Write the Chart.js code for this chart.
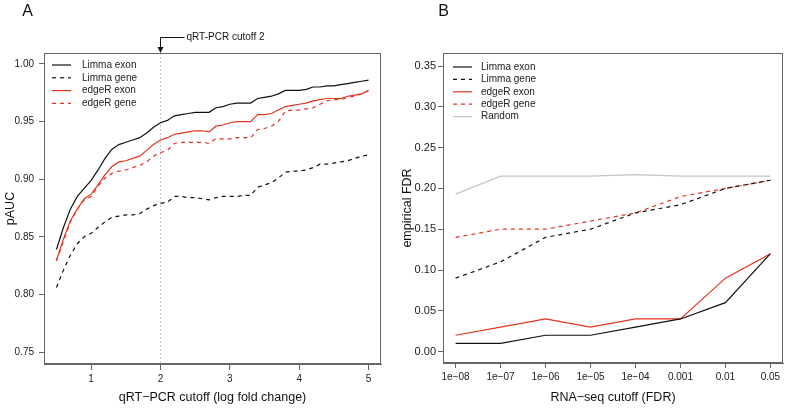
<!DOCTYPE html>
<html>
<head>
<meta charset="utf-8">
<script src="https://cdn.jsdelivr.net/npm/chart.js@4.4.0/dist/chart.umd.min.js"></script>
<style>
  body { margin: 0; background: #fff; }
  #wrap { position: relative; width: 787px; height: 409px; background: #fff; }
  #chartA { position: absolute; left: 0; top: 0; }
  #chartB { position: absolute; left: 393px; top: 0; }
</style>
</head>
<body>
<div id="wrap">
  <canvas id="chartA" width="393" height="409"></canvas>
  <canvas id="chartB" width="394" height="409"></canvas>
</div>
<script>
/* ---------- Panel A: pAUC vs qRT-PCR cutoff ---------- */
const qpcrCutoffs = [0.5, 0.6, 0.7, 0.8, 0.9, 1.0, 1.1, 1.2, 1.3, 1.4, 1.5, 1.6, 1.7, 1.8, 1.9, 2.0,
                     2.1, 2.2, 2.3, 2.4, 2.5, 2.6, 2.7, 2.8, 2.9, 3.0, 3.1, 3.2, 3.3, 3.4, 3.5, 3.6,
                     3.7, 3.8, 3.9, 4.0, 4.1, 4.2, 4.3, 4.4, 4.5, 4.6, 4.7, 4.8, 4.9, 5.0];

const limmaExonA = [0.839, 0.858, 0.874, 0.885, 0.892, 0.899, 0.908, 0.918, 0.926, 0.930, 0.932, 0.934, 0.936, 0.940, 0.945, 0.949,
                    0.951, 0.955, 0.956, 0.957, 0.958, 0.958, 0.958, 0.962, 0.963, 0.965, 0.966, 0.966, 0.966, 0.970, 0.971, 0.972,
                    0.974, 0.977, 0.977, 0.977, 0.978, 0.980, 0.980, 0.981, 0.981, 0.982, 0.983, 0.984, 0.985, 0.986];
const limmaGeneA = [0.806, 0.821, 0.834, 0.844, 0.850, 0.853, 0.858, 0.863, 0.867, 0.868, 0.869, 0.869, 0.870, 0.874, 0.877, 0.879,
                    0.880, 0.885, 0.885, 0.884, 0.884, 0.883, 0.882, 0.884, 0.885, 0.885, 0.885, 0.886, 0.886, 0.893, 0.895, 0.897,
                    0.901, 0.906, 0.907, 0.907, 0.908, 0.910, 0.913, 0.913, 0.914, 0.915, 0.916, 0.918, 0.920, 0.921];
const edgerExonA = [0.830, 0.848, 0.864, 0.874, 0.883, 0.887, 0.895, 0.904, 0.911, 0.915, 0.916, 0.918, 0.920, 0.925, 0.930, 0.934,
                    0.936, 0.939, 0.940, 0.941, 0.942, 0.942, 0.941, 0.946, 0.947, 0.949, 0.950, 0.950, 0.950, 0.956, 0.956, 0.957,
                    0.960, 0.963, 0.964, 0.965, 0.966, 0.968, 0.969, 0.970, 0.970, 0.970, 0.972, 0.973, 0.974, 0.977];
const edgerGeneA = [0.829, 0.846, 0.863, 0.874, 0.882, 0.885, 0.894, 0.901, 0.905, 0.907, 0.908, 0.910, 0.912, 0.915, 0.920, 0.923,
                    0.925, 0.931, 0.932, 0.932, 0.932, 0.932, 0.931, 0.935, 0.935, 0.935, 0.936, 0.936, 0.936, 0.943, 0.944, 0.946,
                    0.950, 0.959, 0.960, 0.960, 0.961, 0.962, 0.965, 0.968, 0.969, 0.969, 0.971, 0.972, 0.974, 0.977];

const xTicksA = [1, 2, 3, 4, 5];
const yTicksA = [0.75, 0.80, 0.85, 0.90, 0.95, 1.00];
const cutoffMarkA = 2;

/* ---------- Panel B: empirical FDR vs RNA-seq cutoff ---------- */
const fdrCutoffs = ["1e\u221208", "1e\u221207", "1e\u221206", "1e\u221205", "1e\u221204", "0.001", "0.01", "0.05"];
const limmaExonB = [0.01, 0.01, 0.02, 0.02, 0.03, 0.04, 0.06, 0.12];
const limmaGeneB = [0.09, 0.11, 0.14, 0.15, 0.17, 0.18, 0.20, 0.21];
const edgerExonB = [0.02, 0.03, 0.04, 0.03, 0.04, 0.04, 0.09, 0.12];
const edgerGeneB = [0.14, 0.15, 0.15, 0.16, 0.17, 0.19, 0.20, 0.21];
const randomB    = [0.193, 0.215, 0.215, 0.215, 0.217, 0.215, 0.215, 0.215];
const yTicksB = [0.00, 0.05, 0.10, 0.15, 0.20, 0.25, 0.30, 0.35];


/* ---------- shared look ---------- */
const FONT = '"Liberation Sans", Arial, sans-serif';
const BLACK = "#111111";
const RED = "#e4341f";
const GREY = "#c4c4c4";
const AXIS = "#666666";

Chart.defaults.font.family = FONT;
Chart.defaults.color = "#222";

function pairUp(xs, ys) {
    return ys.map((y, i) => ({ x: xs[i], y: y }));
}

function lineSet(label, xs, ys, color, dashed) {
    return {
        label: label,
        data: pairUp(xs, ys),
        borderColor: color,
        borderWidth: 1.2,
        borderDash: dashed ? [4, 4] : [],
        pointRadius: 0,
        tension: 0,
        fill: false
    };
}

/* box round the plot region (R style) */
const plotBox = {
    id: "plotBox",
    afterDraw(chart) {
        const a = chart.chartArea, ctx = chart.ctx;
        ctx.save();
        ctx.strokeStyle = AXIS;
        ctx.lineWidth = 1;
        ctx.strokeRect(Math.round(a.left) + 0.5, Math.round(a.top) + 0.5,
                       Math.round(a.right - a.left) - 1, Math.round(a.bottom - a.top) - 1);
        ctx.restore();
    }
};

/* legend drawn inside the plot, top-left */
const insideLegend = {
    id: "insideLegend",
    afterDatasetsDraw(chart, args, opts) {
        const ctx = chart.ctx;
        ctx.save();
        ctx.font = "10px " + FONT;
        ctx.textBaseline = "middle";
        chart.data.datasets.forEach((ds, i) => {
            const y = opts.y + i * opts.gap;
            ctx.strokeStyle = ds.borderColor;
            ctx.lineWidth = 1.2;
            ctx.setLineDash(ds.borderDash);
            ctx.beginPath();
            ctx.moveTo(opts.x1, y);
            ctx.lineTo(opts.x2, y);
            ctx.stroke();
            ctx.setLineDash([]);
            ctx.fillStyle = "#222";
            ctx.fillText(ds.label, opts.textX, y);
        });
        ctx.restore();
    }
};

/* panel letter */
const panelLetter = {
    id: "panelLetter",
    afterDraw(chart, args, opts) {
        const ctx = chart.ctx;
        ctx.save();
        ctx.font = "16px " + FONT;
        ctx.fillStyle = "#111";
        ctx.textAlign = "center";
        ctx.textBaseline = "middle";
        ctx.fillText(opts.text, opts.x, opts.y);
        ctx.restore();
    }
};

/* dotted cutoff line + arrow label (panel A only) */
const cutoffMark = {
    id: "cutoffMark",
    beforeDatasetsDraw(chart) {
        const a = chart.chartArea, ctx = chart.ctx;
        const px = Math.round(chart.scales.x.getPixelForValue(cutoffMarkA)) + 0.5;
        ctx.save();
        ctx.strokeStyle = "#c8c8c8";
        ctx.lineWidth = 1;
        ctx.setLineDash([2, 2]);
        ctx.beginPath();
        ctx.moveTo(px, a.top);
        ctx.lineTo(px, a.bottom);
        ctx.stroke();
        ctx.restore();
    },
    afterDraw(chart) {
        const a = chart.chartArea, ctx = chart.ctx;
        const px = Math.round(chart.scales.x.getPixelForValue(cutoffMarkA)) + 0.5;
        const ly = 37.5;
        ctx.save();
        ctx.strokeStyle = "#111";
        ctx.lineWidth = 1;
        ctx.beginPath();
        ctx.moveTo(px + 24, ly);
        ctx.lineTo(px, ly);
        ctx.lineTo(px, a.top - 5);
        ctx.stroke();
        ctx.fillStyle = "#111";
        ctx.beginPath();
        ctx.moveTo(px - 3, a.top - 6);
        ctx.lineTo(px + 3, a.top - 6);
        ctx.lineTo(px, a.top);
        ctx.closePath();
        ctx.fill();
        ctx.font = "10px " + FONT;
        ctx.textBaseline = "middle";
        ctx.fillText("qRT-PCR cutoff " + cutoffMarkA, px + 26, ly);
        ctx.restore();
    }
};

function scaleStyle(size, tickLen, pad, fontSize) {
    return {
        grid: { drawOnChartArea: false, drawTicks: true, tickLength: tickLen, color: AXIS },
        border: { display: true, color: AXIS },
        ticks: { font: { size: fontSize }, color: "#222", padding: pad, maxRotation: 0, autoSkip: false },
        afterFit(scale) {
            if (scale.isHorizontal()) scale.height = size; else scale.width = size;
        }
    };
}


/* ---------- Chart A ---------- */
const xA = scaleStyle(45, 6, 3, 10);
Object.assign(xA, {
    type: "linear", min: 0.32, max: 5.18,
    title: { display: true, text: "qRT\u2212PCR cutoff (log fold change)", font: { size: 12.5 }, color: "#111", padding: { top: 0, bottom: 3.5 } },
    afterBuildTicks(scale) { scale.ticks = xTicksA.map(v => ({ value: v })); }
});
xA.ticks.callback = v => String(v);

const yA = scaleStyle(44, 5, 5, 10);
Object.assign(yA, {
    type: "linear", min: 0.7396, max: 1.0095,
    title: { display: true, text: "pAUC", font: { size: 12.5 }, color: "#111", padding: { top: 3.5, bottom: 0 } },
    afterBuildTicks(scale) { scale.ticks = yTicksA.map(v => ({ value: v })); }
});
yA.ticks.callback = v => v.toFixed(2);

new Chart(document.getElementById("chartA"), {
    type: "line",
    data: {
        datasets: [
            lineSet("Limma exon", qpcrCutoffs, limmaExonA, BLACK, false),
            lineSet("Limma gene", qpcrCutoffs, limmaGeneA, BLACK, true),
            lineSet("edgeR exon", qpcrCutoffs, edgerExonA, RED, false),
            lineSet("edgeR gene", qpcrCutoffs, edgerGeneA, RED, true)
        ]
    },
    options: {
        responsive: false,
        animation: false,
        devicePixelRatio: 1,
        layout: { padding: { left: 0, top: 53, right: 12, bottom: 0 } },
        plugins: {
            legend: { display: false },
            tooltip: { enabled: false },
            insideLegend: { x1: 52, x2: 71, textX: 82, y: 65, gap: 12.8 },
            panelLetter: { text: "A", x: 27.5, y: 11.5 }
        },
        scales: { x: xA, y: yA }
    },
    plugins: [plotBox, insideLegend, panelLetter, cutoffMark]
});


/* ---------- Chart B ---------- */
const fdrPositions = fdrCutoffs.map((c, i) => i + 1);

const xB = scaleStyle(46, 5, 3, 10);
Object.assign(xB, {
    type: "linear", min: 0.72, max: 8.28,
    title: { display: true, text: "RNA\u2212seq cutoff (FDR)", font: { size: 12.5 }, color: "#111", padding: { top: 0, bottom: 3.5 } },
    afterBuildTicks(scale) { scale.ticks = fdrPositions.map(v => ({ value: v })); }
});
xB.ticks.callback = v => fdrCutoffs[v - 1];

const yB = scaleStyle(50, 5, 2, 11);
Object.assign(yB, {
    type: "linear", min: -0.014, max: 0.366,
    title: { display: true, text: "empirical FDR", font: { size: 12.5 }, color: "#111", padding: { top: 7.5, bottom: 0 } },
    afterBuildTicks(scale) { scale.ticks = yTicksB.map(v => ({ value: v })); }
});
yB.ticks.callback = v => v.toFixed(2);

new Chart(document.getElementById("chartB"), {
    type: "line",
    data: {
        datasets: [
            lineSet("Limma exon", fdrPositions, limmaExonB, BLACK, false),
            lineSet("Limma gene", fdrPositions, limmaGeneB, BLACK, true),
            lineSet("edgeR exon", fdrPositions, edgerExonB, RED, false),
            lineSet("edgeR gene", fdrPositions, edgerGeneB, RED, true),
            lineSet("Random", fdrPositions, randomB, GREY, false)
        ]
    },
    options: {
        responsive: false,
        animation: false,
        devicePixelRatio: 1,
        layout: { padding: { left: 0, top: 53, right: 4, bottom: 0 } },
        plugins: {
            legend: { display: false },
            tooltip: { enabled: false },
            insideLegend: { x1: 60, x2: 79, textX: 88, y: 67, gap: 12.4 },
            panelLetter: { text: "B", x: 50.5, y: 11.5 }
        },
        scales: { x: xB, y: yB }
    },
    plugins: [plotBox, insideLegend, panelLetter]
});
</script>
</body>
</html>
